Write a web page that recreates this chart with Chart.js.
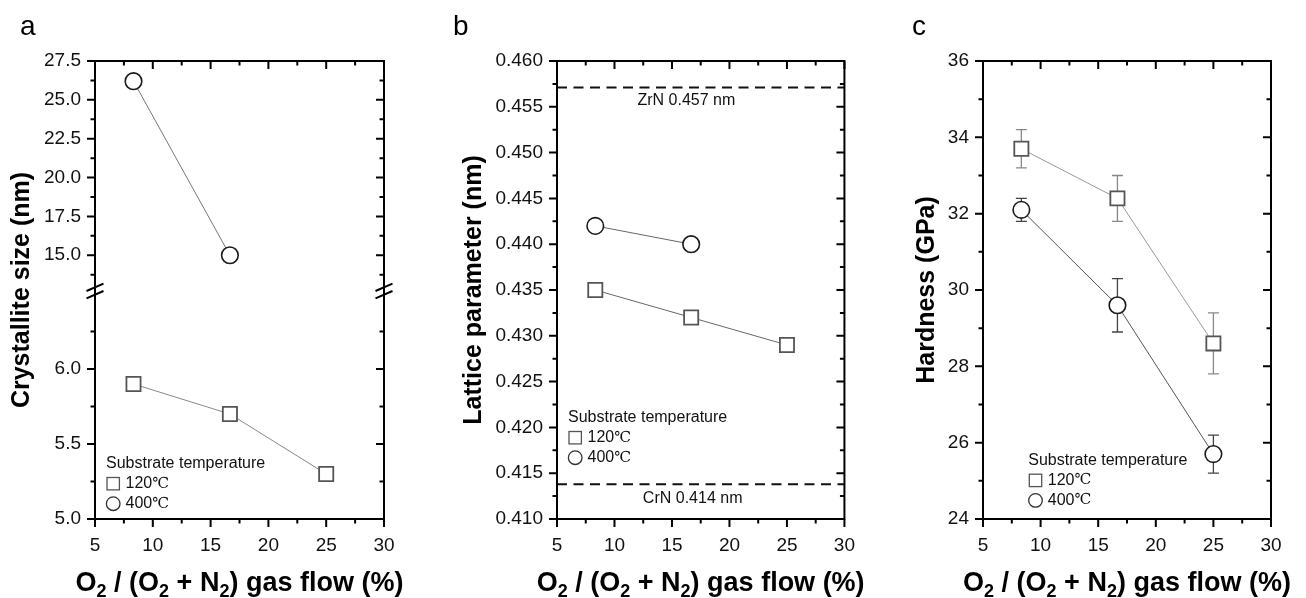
<!DOCTYPE html>
<html>
<head>
<meta charset="utf-8">
<script src="https://cdn.jsdelivr.net/npm/chart.js@4.4.0/dist/chart.umd.min.js"></script>
<style>
  html, body { margin: 0; padding: 0; background: #fff; }
  #wrap { position: relative; width: 1306px; height: 598px; }
  canvas { position: absolute; top: 0; }
</style>
</head>
<body>
<div id="wrap">
  <canvas id="chartA" width="430" height="598" style="left:0px"></canvas>
  <canvas id="chartB" width="440" height="598" style="left:430px"></canvas>
  <canvas id="chartC" width="436" height="598" style="left:870px"></canvas>
</div>
<script>
// --- Data ---
const gasFlow = [8.33, 16.67, 25];          // O2 / (O2 + N2) (%)
const xTicks = [5, 10, 15, 20, 25, 30];

// a: crystallite size (nm)
const sizeLow = [5.9, 5.7, 5.3];            // 120 C
const sizeHigh = [26.2, 15.0];              // 400 C
const sizeTicksUpper = [15, 17.5, 20, 22.5, 25, 27.5];
const sizeTicksLower = [5.0, 5.5, 6.0];

// b: lattice parameter (nm)
const latticeLow = [0.435, 0.432, 0.429];
const latticeHigh = [0.442, 0.440];
const latticeTicks = [0.410, 0.415, 0.420, 0.425, 0.430, 0.435, 0.440, 0.445, 0.450, 0.455, 0.460];
const refNames = ['ZrN 0.457 nm', 'CrN 0.414 nm'];
const refValues = [0.4571, 0.4138];

// c: hardness (GPa)
const hardLow = [33.7, 32.4, 28.6];
const hardLowErr = [0.5, 0.6, 0.8];
const hardHigh = [32.1, 29.6, 25.7];
const hardHighErr = [0.3, 0.7, 0.5];
const hardTicks = [24, 26, 28, 30, 32, 34, 36];

// labels
const legendTitle = 'Substrate temperature';
const legendLabels = ['120℃', '400℃'];
const xTitleParts = [['O', 0], ['2', 1], [' / (O', 0], ['2', 1], [' + N', 0], ['2', 1], [') gas flow (%)', 0]];

const FONT = '"Liberation Sans", Arial, sans-serif';
Chart.defaults.font.family = FONT;
Chart.defaults.color = '#111';

// --- helpers ---
function pts(values) {
  return values.map((v, i) => ({ x: gasFlow[i], y: v }));
}

function fixedTicks(values) {
  return scale => { scale.ticks = values.map(v => ({ value: v })); };
}

function minorTicks(major, min, max) {
  const step = (major[1] - major[0]) / 2;
  const out = [];
  for (let v = major[0] - step; v >= min - 1e-9; v -= step * 2) out.push(v);
  for (let i = 0; i < major.length - 1; i++) out.push((major[i] + major[i + 1]) / 2);
  for (let v = major[major.length - 1] + step; v <= max + 1e-9; v += step * 2) out.push(v);
  return out;
}

const squareStyle = {
  pointStyle: 'rect', pointRadius: 10, pointHoverRadius: 10,
  pointBorderColor: '#555', pointBorderWidth: 1.8, pointBackgroundColor: '#fff',
  borderColor: '#888', borderWidth: 1, fill: false, tension: 0
};
const circleStyle = {
  pointStyle: 'circle', pointRadius: 8.3, pointHoverRadius: 8.3,
  pointBorderColor: '#1a1a1a', pointBorderWidth: 1.6, pointBackgroundColor: '#fff',
  borderColor: '#777', borderWidth: 1, fill: false, tension: 0
};

function xScale(height) {
  return {
    type: 'linear', min: 5, max: 30,
    afterBuildTicks: fixedTicks(xTicks),
    afterFit: s => { s.height = height; },
    grid: { display: false, drawTicks: false },
    border: { display: false },
    ticks: { font: { size: 19 }, color: '#111', padding: 15 }
  };
}

function yScale(opts, width, ticks, digits) {
  return Object.assign({
    type: 'linear', position: 'left',
    afterBuildTicks: fixedTicks(ticks),
    afterFit: s => { s.width = width; },
    grid: { display: false, drawTicks: false },
    border: { display: false },
    ticks: { font: { size: 19 }, color: '#111', padding: 14, callback: v => v.toFixed(digits) }
  }, opts);
}

// --- decoration plugin: frame, ticks, titles, legend, ref lines, error bars ---
const decorPlugin = {
  id: 'decor',
  beforeDatasetsDraw(chart, args, o) {
    const ctx = chart.ctx, a = chart.chartArea;
    ctx.save();
    if (o.refs) {
      const ys = chart.scales[o.refs.axis];
      ctx.strokeStyle = '#111';
      ctx.lineWidth = 2;
      ctx.setLineDash([10, 6.5]);
      ctx.font = '16px ' + FONT;
      ctx.fillStyle = '#111';
      ctx.textAlign = 'center';
      ctx.textBaseline = 'middle';
      refValues.forEach((v, i) => {
        const y = ys.getPixelForValue(v);
        ctx.beginPath();
        ctx.moveTo(a.left, y);
        ctx.lineTo(a.right, y);
        ctx.stroke();
        const xs = chart.scales.x.getPixelForValue(o.refs.labelX[i]);
        ctx.fillText(refNames[i], xs, y + o.refs.labelDy[i]);
      });
      ctx.setLineDash([]);
    }
    if (o.errors) {
      o.errors.forEach(e => {
        const meta = chart.getDatasetMeta(e.dataset);
        const ys = chart.scales[meta.yAxisID];
        ctx.strokeStyle = e.color;
        ctx.lineWidth = 1.3;
        e.values.forEach((v, i) => {
          const x = chart.scales.x.getPixelForValue(gasFlow[i]);
          const y1 = ys.getPixelForValue(v + e.err[i]);
          const y2 = ys.getPixelForValue(v - e.err[i]);
          ctx.beginPath();
          ctx.moveTo(x, y1); ctx.lineTo(x, y2);
          ctx.moveTo(x - 5.5, y1); ctx.lineTo(x + 5.5, y1);
          ctx.moveTo(x - 5.5, y2); ctx.lineTo(x + 5.5, y2);
          ctx.stroke();
        });
      });
    }
    ctx.restore();
  },
  afterDraw(chart, args, o) {
    const ctx = chart.ctx, a = chart.chartArea;
    ctx.save();
    ctx.strokeStyle = '#000';
    ctx.lineWidth = 2;
    ctx.strokeRect(a.left, a.top, a.width, a.height);

    // x ticks: out at bottom, in at top
    const xs = chart.scales.x;
    const xMajor = xs.ticks.map(t => t.value);
    const xMinor = minorTicks(xMajor, xs.min, xs.max);
    ctx.beginPath();
    xMajor.forEach(v => {
      const x = xs.getPixelForValue(v);
      ctx.moveTo(x, a.bottom); ctx.lineTo(x, a.bottom + 8);
      ctx.moveTo(x, a.top); ctx.lineTo(x, a.top + 8);
    });
    xMinor.forEach(v => {
      const x = xs.getPixelForValue(v);
      ctx.moveTo(x, a.bottom); ctx.lineTo(x, a.bottom + 4.5);
      ctx.moveTo(x, a.top); ctx.lineTo(x, a.top + 4.5);
    });
    // y ticks: out at left, in at right
    o.yAxes.forEach(id => {
      const ys = chart.scales[id];
      const yMajor = ys.ticks.map(t => t.value);
      const yMinor = minorTicks(yMajor, ys.min, ys.max);
      yMajor.forEach(v => {
        const y = ys.getPixelForValue(v);
        ctx.moveTo(a.left - 8, y); ctx.lineTo(a.left, y);
        ctx.moveTo(a.right - 8, y); ctx.lineTo(a.right, y);
      });
      yMinor.forEach(v => {
        const y = ys.getPixelForValue(v);
        ctx.moveTo(a.left - 4.5, y); ctx.lineTo(a.left, y);
        ctx.moveTo(a.right - 4.5, y); ctx.lineTo(a.right, y);
      });
    });
    ctx.stroke();

    // axis break marks
    if (o.breakAt) {
      const yb = chart.scales[o.breakAt].bottom;
      ctx.beginPath();
      [a.left, a.right].forEach(x => {
        [-3.7, 3.7].forEach(d => {
          ctx.moveTo(x - 8.5, yb + d + 3.7);
          ctx.lineTo(x + 8.5, yb + d - 3.7);
        });
      });
      ctx.stroke();
    }

    // panel letter
    ctx.fillStyle = '#000';
    ctx.font = '28px ' + FONT;
    ctx.textAlign = 'left';
    ctx.textBaseline = 'alphabetic';
    ctx.fillText(o.letter, o.letterX, 35);

    // y title
    ctx.save();
    ctx.translate(o.yTitleX, (a.top + a.bottom) / 2);
    ctx.rotate(-Math.PI / 2);
    ctx.font = 'bold 25px ' + FONT;
    ctx.textAlign = 'center';
    ctx.textBaseline = 'middle';
    ctx.fillText(o.yTitle, 0, 0);
    ctx.restore();

    // x title with subscripts
    const mainFont = 'bold 27px ' + FONT;
    const subFont = 'bold 18px ' + FONT;
    let total = 0;
    xTitleParts.forEach(([t, sub]) => {
      ctx.font = sub ? subFont : mainFont;
      total += ctx.measureText(t).width;
    });
    let x = (a.left + a.right) / 2 - total / 2;
    ctx.textAlign = 'left';
    ctx.textBaseline = 'alphabetic';
    xTitleParts.forEach(([t, sub]) => {
      ctx.font = sub ? subFont : mainFont;
      ctx.fillText(t, x, sub ? 597 : 591);
      x += ctx.measureText(t).width;
    });

    // legend
    const lx = a.left + o.legend.dx;
    const ly = a.bottom + o.legend.dy;
    ctx.font = '16px ' + FONT;
    ctx.fillStyle = '#111';
    ctx.textBaseline = 'middle';
    ctx.fillText(legendTitle, lx, ly);
    ctx.lineWidth = 1.3;
    ctx.strokeStyle = '#555';
    ctx.strokeRect(lx + 1, ly + 20 - 6.2, 12.4, 12.4);
    ctx.strokeStyle = '#333';
    ctx.beginPath();
    ctx.arc(lx + 7.2, ly + 40, 6.8, 0, Math.PI * 2);
    ctx.stroke();
    legendLabels.forEach((lab, i) => {
      const num = lab.slice(0, -1);
      ctx.font = '16px ' + FONT;
      ctx.fillText(num, lx + 19.5, ly + 20 * (i + 1));
      const w = ctx.measureText(num).width;
      ctx.font = '15px "DejaVu Serif", serif';
      ctx.fillText(lab.slice(-1), lx + 19.5 + w, ly + 20 * (i + 1));
    });
    ctx.restore();
  }
};

const baseOptions = {
  responsive: false,
  animation: false,
  events: [],
  plugins: { legend: { display: false }, tooltip: { enabled: false } }
};

// --- a: crystallite size, broken axis (lower part listed first so it stacks below) ---
new Chart(document.getElementById('chartA'), {
  type: 'line',
  data: {
    datasets: [
      Object.assign({ label: '120', data: pts(sizeLow), yAxisID: 'yLower' }, squareStyle),
      Object.assign({ label: '400', data: pts(sizeHigh), yAxisID: 'yUpper' }, circleStyle)
    ]
  },
  options: Object.assign({}, baseOptions, {
    layout: { padding: { left: 0, right: 46, top: 61, bottom: 0 } },
    scales: {
      x: xScale(79),
      yLower: yScale({ min: 5.0, max: 6.52, stack: 'size', stackWeight: 228 }, 95, sizeTicksLower, 1),
      yUpper: yScale({ min: 12.7, max: 27.5, stack: 'size', stackWeight: 230 }, 95, sizeTicksUpper, 1)
    },
    plugins: Object.assign({}, baseOptions.plugins, {
      decor: {
        letter: 'a', letterX: 20, yTitle: 'Crystallite size (nm)', yTitleX: 22.5,
        yAxes: ['yUpper', 'yLower'], breakAt: 'yUpper',
        legend: { dx: 11, dy: -55.3 }
      }
    })
  }),
  plugins: [decorPlugin]
});

// --- b: lattice parameter ---
new Chart(document.getElementById('chartB'), {
  type: 'line',
  data: {
    datasets: [
      Object.assign({ label: '120', data: pts(latticeLow), yAxisID: 'y' }, squareStyle, { borderColor: '#666' }),
      Object.assign({ label: '400', data: pts(latticeHigh), yAxisID: 'y' }, circleStyle, { borderColor: '#666' })
    ]
  },
  options: Object.assign({}, baseOptions, {
    layout: { padding: { left: 0, right: 24, top: 61, bottom: 0 } },
    scales: {
      x: xScale(79),
      y: yScale({ min: 0.410, max: 0.460 }, 127, latticeTicks, 3)
    },
    plugins: Object.assign({}, baseOptions.plugins, {
      decor: {
        letter: 'b', letterX: 23, yTitle: 'Lattice parameter (nm)', yTitleX: 44,
        yAxes: ['y'],
        refs: { axis: 'y', labelX: [16.25, 16.8], labelDy: [13.4, 14] },
        legend: { dx: 11, dy: -101.3 }
      }
    })
  }),
  plugins: [decorPlugin]
});

// --- c: hardness ---
new Chart(document.getElementById('chartC'), {
  type: 'line',
  data: {
    datasets: [
      Object.assign({ label: '120', data: pts(hardLow), yAxisID: 'y' }, squareStyle, { borderColor: '#999' }),
      Object.assign({ label: '400', data: pts(hardHigh), yAxisID: 'y' }, circleStyle, { borderColor: '#555' })
    ]
  },
  options: Object.assign({}, baseOptions, {
    layout: { padding: { left: 0, right: 35, top: 61, bottom: 0 } },
    scales: {
      x: xScale(79),
      y: yScale({ min: 24, max: 36 }, 113, hardTicks, 0)
    },
    plugins: Object.assign({}, baseOptions.plugins, {
      decor: {
        letter: 'c', letterX: 42, yTitle: 'Hardness (GPa)', yTitleX: 57,
        yAxes: ['y'],
        errors: [
          { dataset: 0, values: hardLow, err: hardLowErr, color: '#888' },
          { dataset: 1, values: hardHigh, err: hardHighErr, color: '#444' }
        ],
        legend: { dx: 45.3, dy: -58.6 }
      }
    })
  }),
  plugins: [decorPlugin]
});
</script>
</body>
</html>
